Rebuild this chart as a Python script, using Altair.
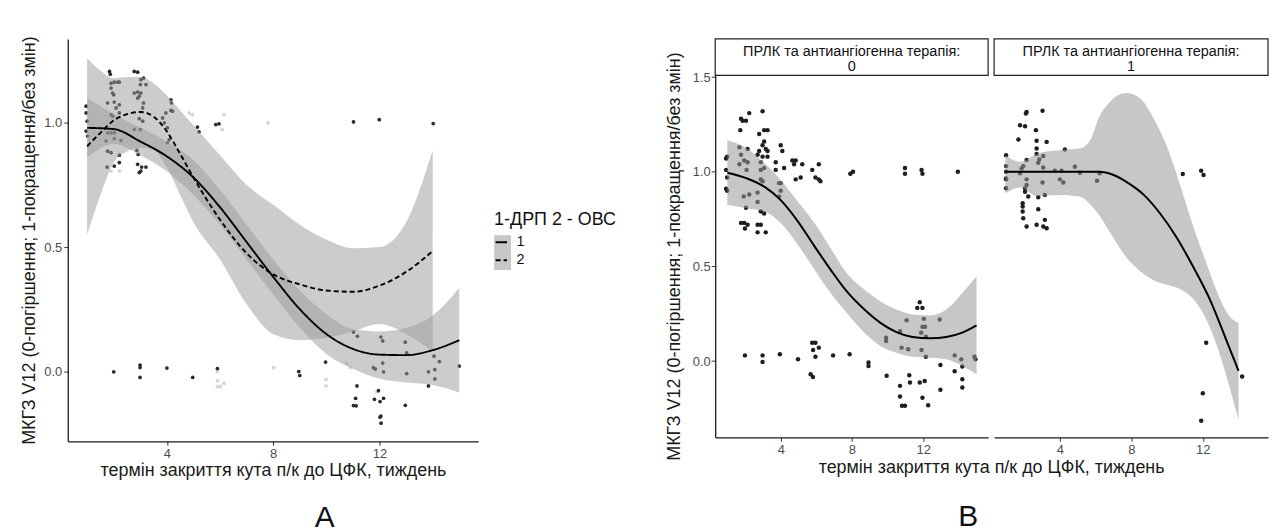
import altair as alt
import pandas as pd

FONT = "Liberation Sans"
Y_TITLE = "МКГЗ V12 (0-погіршення; 1-покращення/без змін)"
X_TITLE = "термін закриття кута п/к до ЦФК, тиждень"
STRIP_TITLE = "ПРЛК та антиангіогенна терапія:"

# ---------------- Panel A: points ----------------
a_dark_x = [0.96, 0.96, 1.0, 0.96, 1.02, 1.84, 1.87, 1.9, 2.02, 2.15, 2.21, 1.9, 1.96, 2.0, 1.77, 2.02, 2.09, 2.21,
            1.9, 1.96, 2.21, 1.77, 1.9, 2.02, 1.71, 2.02, 2.27, 1.77, 1.9, 2.21, 1.75, 2.02, 2.21, 2.77, 2.9, 3.02,
            3.12, 3.0, 3.21, 2.77, 2.9, 3.02, 2.96, 2.9, 3.12, 3.09, 2.96, 3.09, 2.77, 3.0, 2.87, 2.92, 2.9, 3.05,
            3.21, 2.96, 3.02, 4.15, 4.17, 4.15, 4.21, 3.96, 3.84, 3.9, 4.02, 4.09, 4.02, 5.15, 5.21, 5.84, 5.96,
            11.02, 11.99, 14.02,
            2.0, 2.99, 2.99, 2.99, 4.0, 4.97, 5.9, 8.96, 9.0, 9.97, 11.02, 11.17, 11.15, 11.1, 11.02, 11.12, 11.77,
            11.84, 12.12, 12.15, 11.96, 11.81, 12.02, 12.15, 12.05, 12.02, 12.06, 12.05, 12.12, 12.97, 13.02, 13.02,
            12.97, 13.84, 13.84, 14.05, 14.08, 14.08, 14.25, 15.0]
a_dark_y = [1.067, 1.04, 1.007, 0.967, 0.947, 1.207, 1.196, 1.16, 1.164, 1.164, 1.164, 1.14, 1.12, 1.113, 1.08, 1.084,
            1.06, 1.073, 1.033, 1.027, 1.04, 0.96, 0.96, 0.96, 0.927, 0.937, 0.929, 0.886, 0.88, 0.87, 0.822, 0.826,
            0.84, 1.207, 1.204, 1.174, 1.18, 1.154, 1.154, 1.12, 1.124, 1.12, 1.107, 1.1, 1.08, 1.06, 1.017, 1.007,
            0.973, 0.973, 0.889, 0.873, 0.833, 0.822, 0.822, 0.8, 0.806, 1.093, 1.08, 1.05, 1.047, 1.04, 1.02, 1.0,
            0.98, 0.933, 0.92, 0.983, 0.964, 0.993, 0.996,
            1.004, 1.013, 0.997,
            -0.002, 0.025, 0.015, -0.025, 0.013, -0.025, 0.011, -0.001, -0.017, 0.037, 0.158, 0.141, -0.059, -0.109,
            -0.138, -0.139, 0.015, 0.009, 0.033, -0.002, -0.078, -0.113, -0.122, -0.109, -0.18, -0.185, -0.209,
            0.138, 0.122, 0.117, 0.074, -0.009, -0.137, -0.002, -0.059, 0.061, 0.007, -0.031, 0.039, 0.021]
a_light_x = [5.9, 5.9, 6.15, 5.9, 6.02, 8.02, 9.99, 9.99, 10.77, 10.9, 11.9, 4.84, 4.96, 6.15, 6.08, 7.8, 1.9, 2.21]
a_light_y = [-0.002, -0.038, -0.049, -0.062, -0.062, 0.015, -0.033, -0.059, 0.031, 0.015, -0.082, 1.04, 1.033,
             1.033, 0.973, 1.0, 0.806, 0.806]

# ---------------- Panel A: smooth curves ----------------
a1_x = [1, 2, 3, 4, 5, 6, 7, 8, 9, 10, 11, 12, 13, 14, 15]
a1_y = [0.98, 0.975, 0.925, 0.865, 0.78, 0.66, 0.52, 0.38, 0.25, 0.15, 0.09, 0.067, 0.065, 0.085, 0.125]
a1_lo = [0.86, 0.915, 0.87, 0.805, 0.71, 0.59, 0.45, 0.31, 0.175, 0.07, 0.01, -0.03, -0.045, -0.055, -0.085]
a1_hi = [1.10, 1.035, 0.98, 0.925, 0.85, 0.73, 0.59, 0.45, 0.325, 0.23, 0.17, 0.16, 0.175, 0.225, 0.335]

a2_x = [1, 1.5, 2, 2.5, 3, 3.5, 4, 4.5, 5, 6, 7, 8, 9, 10, 11, 12, 13, 14]
a2_y = [0.906, 0.96, 1.01, 1.035, 1.044, 1.025, 0.965, 0.875, 0.78, 0.61, 0.475, 0.39, 0.35, 0.325, 0.32, 0.345,
        0.40, 0.484]
a2_lo = [0.55, 0.71, 0.84, 0.885, 0.9, 0.89, 0.82, 0.71, 0.6, 0.45, 0.27, 0.15, 0.125, 0.135, 0.16, 0.19, 0.15, 0.08]
a2_hi = [1.26, 1.21, 1.18, 1.185, 1.185, 1.16, 1.11, 1.05, 0.99, 0.87, 0.75, 0.67, 0.59, 0.53, 0.495, 0.50, 0.60,
         0.89]

# ---------------- Panel B, facet 0 ----------------
b0_px = [0.93, 0.99, 0.93, 0.99, 0.93, 0.99, 1.68, 1.73, 1.77, 1.86, 2.05, 2.23, 2.98, 2.79, 3.07, 3.26, 3.07, 2.98,
         2.79, 2.7, 3.16, 3.26, 2.98, 3.26, 2.88, 3.07, 2.88, 1.77, 2.14, 1.95, 2.14, 1.68, 2.08, 2.23, 1.92, 2.05,
         1.77, 1.95, 2.14, 1.99, 2.7, 2.88, 2.7, 3.16, 2.7, 2.7, 2.88, 3.07, 2.88, 2.98, 4.0, 4.09, 3.72, 4.19, 3.72,
         4.0, 3.91, 4.0, 3.91, 4.65, 4.84, 4.75, 5.21, 4.84, 5.12, 5.77, 6.14, 5.95, 6.14, 6.23, 7.91, 8.06, 10.98,
         10.98, 11.91, 11.96, 13.95,
         1.99, 2.98, 2.98, 3.95, 4.97, 5.77, 5.95, 5.82, 6.14, 5.95, 5.68, 5.81, 6.94, 7.87, 8.93, 8.93, 9.95, 9.92,
         9.92, 10.7, 11.07, 10.79, 11.16, 11.81, 11.67, 11.96, 12.04, 11.96, 12.11, 11.89, 12.15, 11.91, 12.15,
         12.93, 12.97, 13.77, 14.14, 14.2, 14.88, 14.94, 13.77, 14.2, 14.2, 10.7, 11.22, 11.26, 11.81, 12.09, 10.7,
         11.96, 10.81, 10.98, 12.28, 12.97]
b0_py = [1.07, 1.08, 1.01, 0.97, 0.91, 0.90, 1.13, 1.22, 1.28, 1.27, 1.27, 1.31, 1.32, 1.20, 1.22, 1.22, 1.16, 1.14,
         1.11, 1.09, 1.12, 1.11, 1.08, 1.08, 1.05, 1.02, 1.01, 1.09, 1.12, 1.06, 1.05, 1.04, 1.01, 0.88, 0.87, 0.81,
         0.73, 0.73, 0.72, 0.70, 0.72, 0.72, 0.68, 0.68, 0.89, 0.84, 0.79, 0.78, 0.96, 0.95, 1.14, 1.11, 1.05, 1.02,
         1.01, 0.94, 0.94, 0.90, 0.87, 1.06, 1.06, 1.04, 1.04, 0.96, 0.97, 1.01, 1.04, 0.97, 0.96, 0.95, 0.99, 1.0,
         1.02, 0.99, 1.01, 0.99, 1.0,
         0.03, 0.03, -0.005, 0.036, 0.01, 0.097, 0.097, 0.058, 0.071, 0.023, -0.07, -0.084, 0.03, 0.036, -0.008,
         -0.026, -0.078, 0.123, 0.106, 0.158, 0.216, 0.071, 0.062, 0.311, 0.281, 0.281, 0.223, 0.181, 0.181, 0.15,
         0.129, 0.058, 0.023, 0.22, -0.021, 0.03, 0.009, -0.029, 0.023, 0.009, -0.054, -0.096, -0.14, -0.131,
         -0.075, -0.113, -0.113, -0.105, -0.187, -0.194, -0.236, -0.236, -0.233, -0.152]

b0_x = [1.0, 2.1, 3.1, 4.0, 4.9, 5.9, 6.8, 7.7, 8.7, 9.6, 10.5, 11.4, 12.4, 13.3, 14.2, 15.0]
b0_y = [0.995, 0.965, 0.92, 0.85, 0.746, 0.606, 0.483, 0.369, 0.272, 0.202, 0.153, 0.127, 0.12, 0.127, 0.15, 0.188]
b0_hi = [1.167, 1.123, 1.044, 0.957, 0.85, 0.73, 0.597, 0.465, 0.378, 0.316, 0.272, 0.246, 0.241, 0.272, 0.36, 0.448]
b0_lo = [0.825, 0.808, 0.79, 0.729, 0.623, 0.483, 0.36, 0.255, 0.15, 0.08, 0.044, 0.023, 0.018, 0.009, -0.026,
         -0.07]

# ---------------- Panel B, facet 1 ----------------
b1_px = [0.99, 0.99, 0.99, 0.99, 0.99, 0.99, 1.77, 2.05, 2.14, 2.10, 3.03, 2.66, 2.70, 3.26, 1.68, 2.70, 2.70, 3.07,
         2.85, 2.79, 2.14, 1.95, 1.86, 1.77, 3.07, 2.14, 2.14, 2.05, 2.05, 3.03, 2.23, 2.79, 3.16, 1.92, 1.92, 1.92,
         1.95, 2.79, 2.14, 2.70, 3.07, 3.16, 3.26, 3.72, 4.09, 4.0, 4.19, 4.28, 4.84, 5.12, 6.08, 6.23, 10.88, 11.91,
         12.04, 12.19, 12.0, 11.91, 14.2]
b1_py = [1.088, 1.03, 1.0, 0.965, 0.96, 0.913, 1.246, 1.241, 1.316, 1.308, 1.322, 1.22, 1.164, 1.158, 1.171, 1.123,
         1.094, 1.083, 1.065, 1.048, 1.062, 1.03, 1.018, 0.992, 1.023, 0.96, 0.93, 0.913, 0.895, 0.943, 0.869, 0.865,
         0.878, 0.834, 0.816, 0.79, 0.755, 0.802, 0.711, 0.72, 0.711, 0.746, 0.702, 1.006, 1.006, 0.96, 0.943, 1.118,
         1.027, 0.995, 0.953, 0.992, 0.988, 1.006, 0.983, 0.097, -0.17, -0.315, -0.082]

b1_x = [0.95, 2.0, 3.0, 4.0, 5.0, 6.2, 7.0, 7.7, 8.7, 9.6, 10.5, 11.4, 12.4, 13.3, 14.0]
b1_y = [1.0, 1.0, 1.0, 1.0, 1.0, 1.0, 0.983, 0.948, 0.878, 0.781, 0.658, 0.509, 0.325, 0.115, -0.052]
b1_bx = [0.95, 1.8, 2.7, 4.0, 5.1, 5.7, 6.2, 6.8, 7.7, 8.5, 9.2, 10.0, 10.7, 11.4, 12.2, 12.9, 13.5, 14.0]
b1_hi = [1.088, 1.053, 1.094, 1.115, 1.123, 1.167, 1.29, 1.369, 1.416, 1.387, 1.29, 1.132, 0.939, 0.729, 0.518,
         0.343, 0.237, 0.202]
b1_lo = [0.886, 0.917, 0.872, 0.878, 0.869, 0.827, 0.77, 0.68, 0.55, 0.475, 0.43, 0.403, 0.382, 0.334, 0.22, 0.05,
         -0.14, -0.31]

# ---------------- layout sizes ----------------
WA, HA = 412, 404
WB0, WB1, HB = 274, 275, 400
XA_DOM = [0.27, 15.71]
YA_DOM = [-0.282, 1.338]
XB_DOM = [0.32, 15.65]
YB_DOM = [-0.403, 1.702]
TITLE_FS = 18

# ---------------- Panel A ----------------
pts_a = pd.DataFrame({"x": a_light_x + a_dark_x, "y": a_light_y + a_dark_y,
                      "g": ["light"] * len(a_light_x) + ["dark"] * len(a_dark_x)})
band_a = pd.DataFrame({"x": a1_x + a2_x, "lo": a1_lo + a2_lo, "hi": a1_hi + a2_hi,
                       "grp": ["1"] * len(a1_x) + ["2"] * len(a2_x)})
line_a = pd.DataFrame({"x": a1_x + a2_x, "y": a1_y + a2_y, "grp": ["1"] * len(a1_x) + ["2"] * len(a2_x)})

xa = alt.X("x:Q", scale=alt.Scale(domain=XA_DOM, nice=False, zero=False),
           axis=alt.Axis(values=[4, 8, 12], title=X_TITLE, titlePadding=1))
ya_axis = alt.Axis(values=[0, 0.5, 1.0], format=".1f", title=Y_TITLE, titlePadding=5)
ya_scale = alt.Scale(domain=YA_DOM, nice=False, zero=False)

a_points = alt.Chart(pts_a).mark_circle(size=14, opacity=1).encode(
    x=xa, y=alt.Y("y:Q", scale=ya_scale, axis=ya_axis),
    color=alt.Color("g:N", scale=alt.Scale(domain=["light", "dark"], range=["#d6d6d6", "#2a2a2a"]), legend=None),
    order=alt.Order("g:N", sort="descending"))
a_band = alt.Chart(band_a).mark_area(color="#999999", opacity=0.5, interpolate="monotone").encode(
    x=xa, y=alt.Y("lo:Q", scale=ya_scale, axis=ya_axis), y2="hi:Q", detail="grp:N")
a_line = alt.Chart(line_a).mark_line(color="black", strokeWidth=1.9, interpolate="monotone").encode(
    x=xa, y=alt.Y("y:Q", scale=ya_scale, axis=ya_axis),
    strokeDash=alt.StrokeDash("grp:N", scale=alt.Scale(domain=["1", "2"], range=[[1, 0], [5, 3]]),
                              legend=alt.Legend(title="1-ДРП 2 - ОВС", orient="none", legendX=428, legendY=173,
                                                symbolType="stroke", symbolStrokeColor="black",
                                                symbolStrokeWidth=2, symbolSize=130, titleFontSize=18,
                                                labelFontSize=14.5, titleFontWeight="normal", titleColor="#111",
                                                labelColor="#111", titleFont=FONT, labelFont=FONT,
                                                rowPadding=3, titlePadding=6, labelOffset=8)))
one = pd.DataFrame({"t": ["A"]})
a_keybox = alt.Chart(one).mark_rect(color="#c8c8c8").encode(
    x=alt.value(428), x2=alt.value(445), y=alt.value(197), y2=alt.value(232))
a_label = alt.Chart(one).mark_text(fontSize=30, font=FONT, color="#111", baseline="alphabetic").encode(
    x=alt.value(258), y=alt.value(490), text="t:N")

panel_a = alt.layer(a_points, a_band, a_line, a_keybox, a_label).properties(width=WA, height=HA)


# ---------------- Panel B ----------------
def facet_panel(px, py, lx, ly, bx, blo, bhi, label, width, first):
    pts = pd.DataFrame({"x": px, "y": py})
    band = pd.DataFrame({"x": bx, "lo": blo, "hi": bhi})
    line = pd.DataFrame({"x": lx, "y": ly})
    xs = alt.X("x:Q", scale=alt.Scale(domain=XB_DOM, nice=False, zero=False),
               axis=alt.Axis(values=[4, 8, 12], title=None))
    ys = alt.Scale(domain=YB_DOM, nice=False, zero=False)
    if first:
        yax = alt.Axis(values=[0, 0.5, 1.0, 1.5], format=".1f", title=Y_TITLE, titlePadding=9, titleY=218,
                       labelPadding=1)
    else:
        yax = None
    p = alt.Chart(pts).mark_circle(size=20, color="#1e1e1e", opacity=1).encode(
        x=xs, y=alt.Y("y:Q", scale=ys, axis=yax))
    b = alt.Chart(band).mark_area(color="#999999", opacity=0.55, interpolate="monotone").encode(
        x=xs, y=alt.Y("lo:Q", scale=ys, axis=yax), y2="hi:Q")
    l = alt.Chart(line).mark_line(color="black", strokeWidth=2, interpolate="monotone").encode(
        x=xs, y=alt.Y("y:Q", scale=ys, axis=yax))
    strip_df = pd.DataFrame({"t1": [STRIP_TITLE], "t2": [label]})
    strip = alt.Chart(strip_df).mark_rect(fill="white", stroke="#222", strokeWidth=1.2).encode(
        x=alt.value(0), x2=alt.value(width), y=alt.value(0), y2=alt.value(36.7))
    s1 = alt.Chart(strip_df).mark_text(fontSize=14.5, font=FONT, color="#111", baseline="middle").encode(
        x=alt.value(width / 2), y=alt.value(13.5), text="t1:N")
    s2 = alt.Chart(strip_df).mark_text(fontSize=14.5, font=FONT, color="#111", baseline="middle").encode(
        x=alt.value(width / 2), y=alt.value(28), text="t2:N")
    layers = [p, b, l, strip, s1, s2]
    if first:
        extra = pd.DataFrame({"xt": [X_TITLE], "lab": ["B"]})
        xt = alt.Chart(extra).mark_text(fontSize=TITLE_FS, font=FONT, color="#1a1a1a", baseline="middle").encode(
            x=alt.value(277.5), y=alt.value(430.5), text="xt:N")
        bl = alt.Chart(extra).mark_text(fontSize=30, font=FONT, color="#111", baseline="alphabetic").encode(
            x=alt.value(254), y=alt.value(489), text="lab:N")
        layers += [xt, bl]
    return alt.layer(*layers).properties(width=width, height=HB)


b0 = facet_panel(b0_px, b0_py, b0_x, b0_y, b0_x, b0_lo, b0_hi, "0", WB0, True)
b1 = facet_panel(b1_px, b1_py, b1_x, b1_y, b1_bx, b1_lo, b1_hi, "1", WB1, False)
panel_b = alt.hconcat(b0, b1, spacing=6, bounds="flush")

chart = alt.hconcat(panel_a, panel_b, spacing=238, bounds="flush").properties(
    padding={"left": 12, "top": 26, "right": 5, "bottom": 0}
).configure_view(stroke=None).configure_axis(
    grid=False, domainColor="#1a1a1a", domainWidth=1.3, tickColor="#333333", tickSize=4, tickWidth=1,
    labelFont=FONT, labelFontSize=13, labelColor="#4d4d4d", labelPadding=2,
    titleFont=FONT, titleFontSize=TITLE_FS, titleFontWeight="normal", titleColor="#1a1a1a"
).configure_text(font=FONT)

chart.save("out.html", embed_options={"renderer": "svg", "actions": False})
